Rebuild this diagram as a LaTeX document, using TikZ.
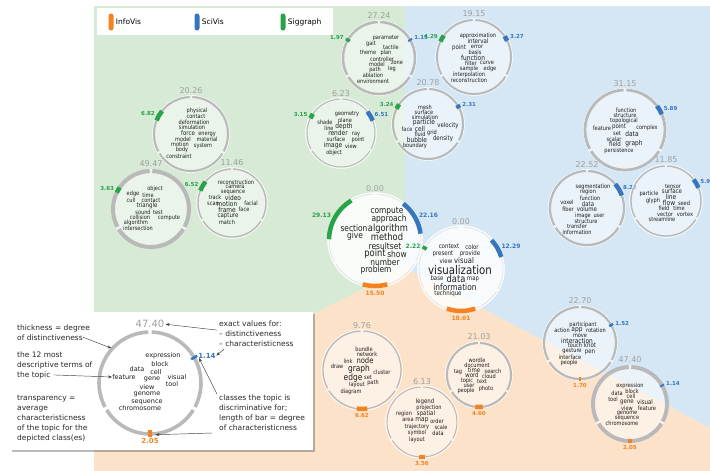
\documentclass[tikz,border=0pt]{standalone}
\usepackage{fontspec}
\setmainfont{DejaVu Sans}
\newfontfamily\wordfont[FakeStretch=0.85]{DejaVu Sans}
\usetikzlibrary{positioning}
\usetikzlibrary{arrows.meta}
\usetikzlibrary{shadows}

\definecolor{infovis}{RGB}{245,130,32}
\definecolor{scivis}{RGB}{55,118,189}
\definecolor{siggraph}{RGB}{39,163,72}
\definecolor{infbg}{RGB}{251,226,201}
\definecolor{scibg}{RGB}{213,231,244}
\definecolor{sigbg}{RGB}{214,234,213}
\definecolor{ringgray}{RGB}{185,185,185}
\definecolor{ringfaint}{RGB}{222,222,222}
\definecolor{valgray}{RGB}{160,160,160}
\definecolor{wordcol}{RGB}{30,30,30}

\newcommand{\sza}{\fontsize{6.4}{6.4}\selectfont}
\newcommand{\szb}{\fontsize{6.9}{6.9}\selectfont}
\newcommand{\szc}{\fontsize{8}{8}\selectfont}
\newcommand{\szd}{\fontsize{8.8}{8.8}\selectfont}
\newcommand{\sze}{\fontsize{9.8}{9.8}\selectfont}
\newcommand{\szf}{\fontsize{12}{12}\selectfont}

\tikzset{
  word/.style={font=\wordfont\fontsize{5.9}{5.9}\selectfont, inner sep=0pt, text=wordcol},
  exword/.style={font=\fontsize{6.5}{6.5}\selectfont, inner sep=0pt, text=wordcol},
  bubble/.style={fill=white, draw=white, line width=0.4pt},
  ring/.style={draw=ringgray},
  distval/.style={text=valgray, anchor=south, inner sep=1pt, font=\fontsize{8}{8}\selectfont},
  sigbar/.style={draw=siggraph, line width=4.5pt},
  scibar/.style={draw=scivis, line width=4.5pt},
  infbar/.style={draw=infovis, line width=4.5pt},
  barval/.style={inner sep=0.5pt, font=\bfseries\fontsize{5.5}{5.5}\selectfont},
  sigval/.style={barval, text=siggraph, anchor=east},
  scival/.style={barval, text=scivis, anchor=west},
  infval/.style={barval, text=infovis, anchor=north},
  pill/.style={minimum width=5pt, minimum height=17pt, inner sep=0pt, rounded corners=2.5pt},
  keytext/.style={inner sep=0pt, font=\fontsize{7.5}{7.5}\selectfont},
  note/.style={anchor=base west, inner sep=0pt, font=\fontsize{7.5}{7.5}\selectfont, text=black!85},
  notearrow/.style={-{Stealth[length=4pt, width=3pt]}, line width=0.45pt, black!75},
}

% topic circle: name, x, y, radius, ring width, fill opacity, distinctiveness
\newcommand{\barscale}{91.7}
\newcommand{\topicring}[7]{%
  \coordinate (#1) at (#2,#3);
  \fill[bubble, fill opacity=#6] (#1) circle ({#4+1.5});
  \foreach \ang in {30,150,270}
    \draw[ring, line width=#5pt] (#1) ++({\ang+2}:#4) arc[start angle={\ang+2}, end angle={\ang+118}, radius=#4];
  \path (#1) ++(0,{-#4-#5/2-1}) node[distval] (#1-d) {#7};
}
% class bar: class, circle, radius, angle, characteristicness
\newcommand{\clsbar}[5]{%
  \pgfmathsetmacro{\spn}{\barscale*#5/#3}
  \draw[#1bar] (#2) ++({#4-\spn/2}:#3) arc[start angle={#4-\spn/2}, end angle={#4+\spn/2}, radius=#3];
  \path (#2) ++(#4:{#3+4}) node[#1val] (#2-#1) {#5};
}

\begin{document}
\begin{tikzpicture}[x=1pt, y=-1pt]
\useasboundingbox (0,0) rectangle (710,471);

%Regions
\fill[sigbg] (94,6) -- (405,6) -- (405,268) -- (94,425) -- cycle;
\fill[scibg] (405,6) -- (710,6) -- (710,428) -- (405,268) -- cycle;
\fill[infbg] (94,425) -- (405,268) -- (710,428) -- (710,471) -- (94,471) -- cycle;

%Key
\fill[white] (97,8) rectangle (333,35);
\node[pill, fill=infovis] (infopill) at (111,22) {};
\node[keytext, right=2pt of infopill] (infokey) {InfoVis};
\node[pill, fill=scivis] (scipill) at (197,22) {};
\node[keytext, right=2pt of scipill] (scikey) {SciVis};
\node[pill, fill=siggraph] (sigpill) at (283,22) {};
\node[keytext, right=2pt of sigpill] (sigkey) {Siggraph};

%Siggraph topics
\topicring{gait}{379}{58}{36}{2.5}{0.5}{27.24}
\clsbar{sig}{gait}{36}{210}{1.97}
\clsbar{sci}{gait}{36}{330}{1.15}
\foreach \x/\y/\wrd [count=\i] in {386/38/parameter, 371/44/gait, 391/47/tactile, 368/52/theme, 386/53/plan, 382/59/controller, 377/64/model, 397/63/zone, 375/70/path, 392/69/leg, 373/75/ablation, 373/81/environment}
  \node[word] (gait-w\i) at (\x,\y) {\wrd};

\topicring{physics}{191}{134}{37}{2.02}{0.5}{20.26}
\clsbar{sig}{physics}{37}{210}{6.82}
\foreach \x/\y/\wrd [count=\i] in {197/111/physical, 196/116/contact, 194/122/deformation, 192/127/simulation, 188/133/{\sza force}, 207/134/energy, 183/139/model, 207/139/material, 180/144/motion, 203/146/system, 182/150/body, 179/156/constraint}
  \node[word] (physics-w\i) at (\x,\y) {\wrd};

\topicring{collision}{151}{209}{38}{4.06}{0.5}{49.47}
\clsbar{sig}{collision}{38}{210}{3.63}
\foreach \x/\y/\wrd [count=\i] in {155/189/object, 133/194/edge, 148/195/time, 131/200/cull, 151/200/contact, 147/206/{\sza triangle}, 143/212/sound, 158/212/test, 140/217/collision, 169/218/compute, 136/223/algorithm, 138/228/intersection}
  \node[word] (collision-w\i) at (\x,\y) {\wrd};

\topicring{capture}{232}{203}{34}{1.4}{0.5}{11.46}
\clsbar{sig}{capture}{34}{210}{6.52}
\foreach \x/\y/\wrd [count=\i] in {236/182/reconstruction, 235/187/camera, 233/192.5/sequence, 215/197.5/track, 233/198/{\szb video}, 213/203.5/scan, 227/204/{\szb motion}, 251/203.5/facial, 227/210/{\szb frame}, 244/209.5/face, 228/216/{\sza capture}, 227/222/match}
  \node[word] (capture-w\i) at (\x,\y) {\wrd};

\topicring{render}{341}{133}{34}{1.04}{0.5}{6.23}
\clsbar{sig}{render}{34}{210}{3.15}
\clsbar{sci}{render}{34}{330}{6.51}
\foreach \x/\y/\wrd [count=\i] in {347/114/geometry, 325/122/shade, 345/121/plane, 329/128/line, 344/127/{\szb depth}, 338/133/{\szb render}, 356/134/ray, 336/139/surface, 358/140/point, 333/146/{\szb image}, 351/146/view, 334/153/object}
  \node[word] (render-w\i) at (\x,\y) {\wrd};

%SciVis topics
\topicring{interp}{474}{57}{37}{1.94}{0.5}{19.15}
\clsbar{sig}{interp}{37}{210}{4.29}
\clsbar{sci}{interp}{37}{330}{3.27}
\foreach \x/\y/\wrd [count=\i] in {478/35.5/approximation, 478/41/{\sza interval}, 459/47.5/{\sza point}, 477/46.5/error, 475/52/basis, 473/57.5/{\szb function}, 471/63/filter, 487/62.5/curve, 469/69/sample, 490/68.5/edge, 469/75/interpolation, 469/80.5/reconstruction}
  \node[word] (interp-w\i) at (\x,\y) {\wrd};

\topicring{fluid}{428}{124}{35}{2.05}{0.5}{20.78}
\clsbar{sig}{fluid}{35}{210}{3.24}
\clsbar{sci}{fluid}{35}{330}{2.31}
\foreach \x/\y/\wrd [count=\i] in {425/107/mesh, 424/112/surface, 425/117/simulation, 424/123/{\szb particle}, 448/126/{\sza velocity}, 407/129/face, 420/129/{\szb cell}, 420/134/fluid, 432/133/grid, 417/140/{\szb bubble}, 443/139/{\sza density}, 415/146/boundary}
  \node[word] (fluid-w\i) at (\x,\y) {\wrd};

\topicring{topology}{625}{130}{40}{2.78}{0.5}{31.15}
\clsbar{sci}{topology}{40}{330}{5.89}
\foreach \x/\y/\wrd [count=\i] in {626/110/function, 625/115.5/structure, 624/121/topological, 602/128.5/feature, 619/127/{\sza point}, 647/128/complex, 617/133.5/set, 632/133.5/{\szb data}, 614/139/scalar, 615/144.5/{\sza field}, 634/143.5/{\szb graph}, 619/150.5/persistence}
  \node[word] (topology-w\i) at (\x,\y) {\wrd};

\topicring{segment}{587}{208}{37}{2.18}{0.5}{22.52}
\clsbar{sci}{segment}{37}{330}{8.22}
\foreach \x/\y/\wrd [count=\i] in {593/187/segmentation, 588/192/region, 590/198/function, 567/202/voxel, 588/204/{\sza data}, 568/209/fiber, 587/209/{\sza volume}, 583/216/image, 599/216/user, 586/221/structure, 577/226/transfer, 577/232/information}
  \node[word] (segment-w\i) at (\x,\y) {\wrd};

\topicring{flow}{666}{201}{35}{1.43}{0.5}{11.85}
\clsbar{sci}{flow}{35}{330}{5.99}
\foreach \x/\y/\wrd [count=\i] in {673/186/tensor, 649/194/particle, 672/191/{\sza surface}, 671/197/{\szb line}, 653/201/glyph, 669/203/{\szb flow}, 684/203/seed, 664/208/field, 679/208/time, 665/214/vector, 685/214/vortex, 662/219/streamline}
  \node[word] (flow-w\i) at (\x,\y) {\wrd};

\topicring{interact}{580}{343}{36}{2.19}{0.5}{22.70}
\clsbar{sci}{interact}{36}{330}{1.52}
\clsbar{inf}{interact}{36}{90}{1.70}
\foreach \x/\y/\wrd [count=\i] in {583/324.5/participant, 562/330.5/action, 577/330.5/{\szb app}, 596/330.5/rotation, 580/335.5/move, 577/340.5/{\szb interaction}, 575/345.5/touch, 590/345.5/{\sza knot}, 572/351.5/gesture, 590/352.5/{\sza pen}, 570/357.5/interface, 569/363/people}
  \node[word] (interact-w\i) at (\x,\y) {\wrd};

\topicring{genome}{630}{404}{37}{3.92}{0.5}{47.40}
\clsbar{sci}{genome}{37}{330}{1.14}
\clsbar{inf}{genome}{37}{90}{2.05}
\foreach \x/\y/\wrd [count=\i] in {630/385.5/expression, 632/391/block, 617/393/data, 631/396.5/cell, 613/399/tool, 627/402.5/{\sza gene}, 645/402.5/{\sza visual}, 627/408/view, 647/408/feature, 627/413.5/genome, 627/418.5/sequence, 622/423.5/chromosome}
  \node[word] (genome-w\i) at (\x,\y) {\wrd};

%InfoVis topics
\topicring{graph}{362}{370}{39}{1.28}{0.5}{9.76}
\clsbar{inf}{graph}{39}{90}{6.62}
\foreach \x/\y/\wrd [count=\i] in {364/349/bundle, 367/354/network, 348/361/link, 365/361/{\szc node}, 337/366/draw, 359/369/{\szd graph}, 382/372/cluster, 353/378/{\szd edge}, 368/377/set, 357/385/layout, 373/383/path, 351/392/diagram}
  \node[word] (graph-w\i) at (\x,\y) {\wrd};

\topicring{wordle}{479}{375}{32}{2.07}{0.5}{21.03}
\clsbar{inf}{wordle}{32}{90}{4.60}
\foreach \x/\y/\wrd [count=\i] in {477/360/wordle, 477/365/document, 458/372/tag, 474/370/{\sza time}, 493/371/search, 472/375/{\sza word}, 489/376/cloud, 467/381/topic, 482/381/text, 469/386/user, 486/389/photo, 466/391/people}
  \node[word] (wordle-w\i) at (\x,\y) {\wrd};

\topicring{spatial}{422}{422}{35}{1.03}{0.5}{6.13}
\clsbar{inf}{spatial}{35}{90}{3.56}
\foreach \x/\y/\wrd [count=\i] in {425/402/{\sza legend}, 429/408/projection, 404/414/region, 426/414/{\sza spatial}, 408/420/area, 422/420/{\szb map}, 437/421/order, 417/427/trajectory, 441/427/scale, 417/433/symbol, 438/433/data, 417/440/layout}
  \node[word] (spatial-w\i) at (\x,\y) {\wrd};

%General topics
\begin{scope}[ring/.append style={draw=ringfaint}, barval/.append style={font=\bfseries\fontsize{6}{6}\selectfont}]
\topicring{method}{375}{240}{46}{0.6}{0.85}{0.00}
\clsbar{sig}{method}{46}{210}{29.13}
\clsbar{sci}{method}{46}{330}{22.16}
\clsbar{inf}{method}{46}{90}{15.50}
\foreach \x/\y/\wrd [count=\i] in {387/211/compute, 389/219/approach, 354/228/section, 388/229/{\sze algorithm}, 355/236/give, 387/237/{\sze method}, 385/246/resultset, 375/254/{\sze point}, 397/254/show, 385/262/number, 376/270/problem}
  \node[word, font=\wordfont\szd] (method-w\i) at (\x,\y) {\wrd};

\topicring{vis}{461}{269}{42}{0.6}{0.85}{0.00}
\clsbar{sig}{vis}{42}{210}{2.22}
\clsbar{sci}{vis}{42}{330}{12.29}
\clsbar{inf}{vis}{42}{90}{18.01}
\foreach \x/\y/\wrd [count=\i] in {449/246/context, 472/247/{\sza color}, 443/254/present, 470/254/provide, 446/261/view, 464/261/{\szc visual}, 460/270/{\szf visualization}, 437/278/base, 456/279/{\sze data}, 473/279/map, 455/287/{\szd information}, 448/294/technique}
  \node[word, font=\wordfont\sza] (vis-w\i) at (\x,\y) {\wrd};
\end{scope}

%Explanation
\fill[white, drop shadow={shadow xshift=2pt, shadow yshift=-2pt, opacity=0.45, fill=black!60}] (10,312) rectangle (313,450);
\begin{scope}[sigbar/.append style={line width=7pt}, scibar/.append style={line width=7pt}, infbar/.append style={line width=7pt}, barval/.append style={font=\bfseries\fontsize{7}{7}\selectfont}, distval/.append style={font=\fontsize{10}{10}\selectfont}]
\renewcommand{\barscale}{128}
\topicring{ex}{150}{383}{51}{3.6}{0}{47.40}
\clsbar{sci}{ex}{51}{330}{1.14}
\clsbar{inf}{ex}{51}{90}{2.05}
\end{scope}
\foreach \x/\y/\wrd [count=\i] in {163/356/expression, 160/364/block, 137/369/data, 156/372/cell, 124/377/feature, 152/379/gene, 177/377/visual, 147/387/view, 172/384/tool, 147/394/genome, 147/402/sequence, 140/408/chromosome}
  \node[exword] (ex-w\i) at (\x,\y) {\wrd};

\foreach \wrd [count=\i] in {thickness = degree, of distinctiveness}
  \node[note] (thick\i) at (17,{320+10*\i}) {\wrd};
\foreach \wrd [count=\i] in {the 12 most, descriptive terms of, the topic}
  \node[note] (terms\i) at (17,{347+10*\i}) {\wrd};
\foreach \wrd [count=\i] in {transparency =, average, characteristicness, of the topic for the, depicted class(es)}
  \node[note] (transp\i) at (17,{390+10*\i}) {\wrd};
\foreach \wrd [count=\i] in {exact values for:, – distinctiveness, – characteristicness}
  \node[note] (exact\i) at (219,{316+10*\i}) {\wrd};
\foreach \wrd [count=\i] in {classes the topic is, discriminative for;, length of bar = degree, of characteristicness}
  \node[note] (classes\i) at (219,{390+10*\i}) {\wrd};

%Arrows
\path (ex) ++(222:52) coordinate (ex-rim);
\path (ex) ++(333:55) coordinate (ex-bartip);
\path (ex) ++(84:52) coordinate (ex-inftip);
\coordinate (classes-foot) at (212,433);
\draw[notearrow] (thick2.east) -- (ex-rim);
\draw[notearrow] ([xshift=3pt]terms3.east) -- (ex-w5.west);
\draw[notearrow] ([xshift=-2pt]exact2.north west) -- (ex-d.east);
\draw[notearrow] ([xshift=5pt, yshift=-3pt]exact3.south west) -- (ex-sci.east);
\draw[notearrow] ([xshift=-2pt]classes1.north west) -- (ex-bartip);
\draw[notearrow] (classes-foot) -- (ex-inftip);

\end{tikzpicture}
\end{document}
